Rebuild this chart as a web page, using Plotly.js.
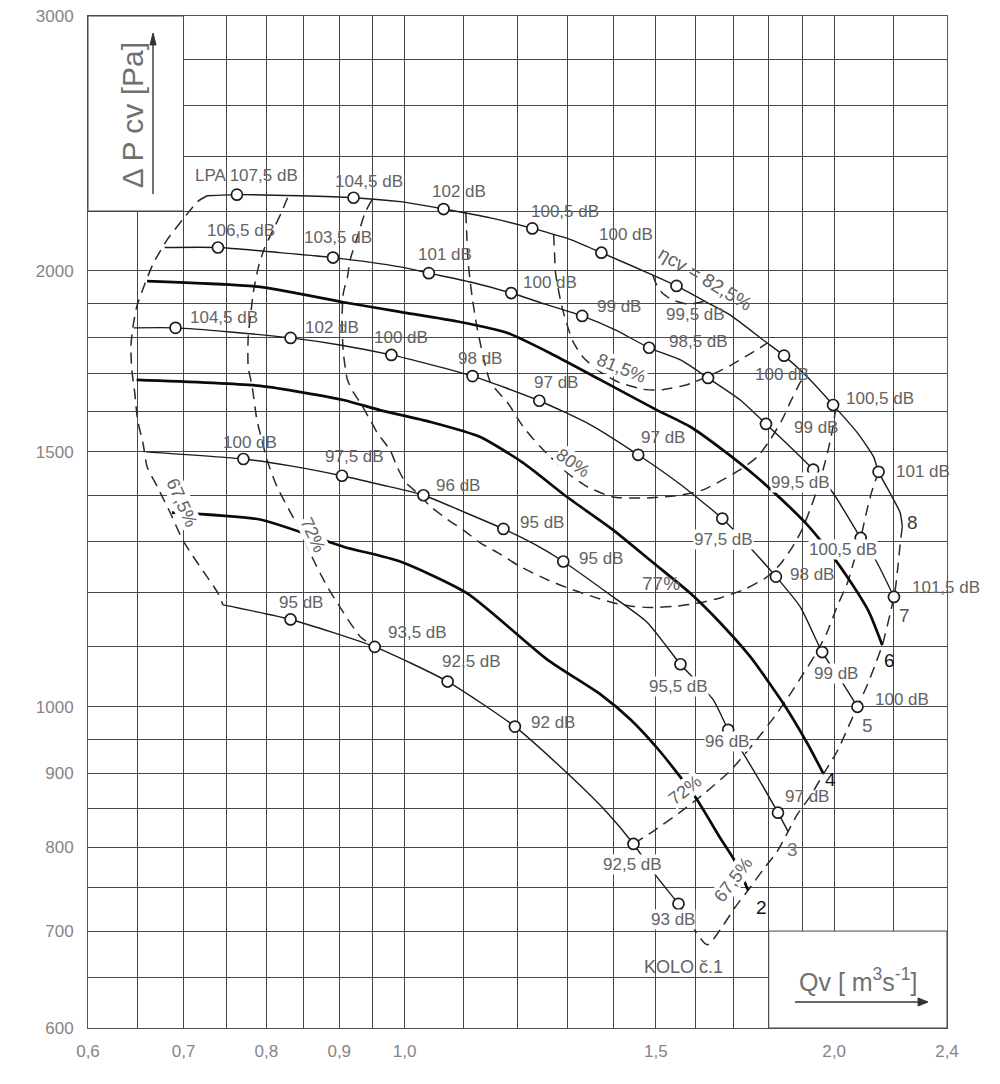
<!DOCTYPE html>
<html>
<head>
<meta charset="utf-8">
<script src="https://cdn.plot.ly/plotly-3.0.1.min.js"></script>
<style>
  html, body { margin: 0; padding: 0; background: #fff; }
  #chart { width: 1000px; height: 1084px; }
</style>
</head>
<body>
<div id="chart"></div>
<script>
// Fan characteristic on log-log paper: static pressure vs. volume flow
// for blade settings 1-8, with efficiency contours and noise levels.

// ---- axes ----
const xGrid = [0.6, 0.65, 0.7, 0.75, 0.8, 0.85, 0.9, 0.95, 1.0, 1.1, 1.2, 1.3, 1.4, 1.5, 1.6, 1.7, 1.8, 1.9, 2.0, 2.2, 2.4];
const xTickValues = [0.6, 0.7, 0.8, 0.9, 1.0, 1.5, 2.0, 2.4];
const xTickLabels = ['0,6', '0,7', '0,8', '0,9', '1,0', '1,5', '2,0', '2,4'];
const yGrid = [600, 650, 700, 750, 800, 850, 900, 950, 1000, 1100, 1200, 1300, 1400, 1500, 1600, 1700, 1800, 1900, 2000, 2200, 2400, 2600, 2800, 3000];
const yTickValues = [600, 700, 800, 900, 1000, 1500, 2000, 3000];
const yTickLabels = ['600', '700', '800', '900', '1000', '1500', '2000', '3000'];

// ---- characteristic curves (Qv [m3/s], dPcv [Pa]) ----
const q8 = [0.727, 0.763, 0.845, 0.921, 0.993, 1.065, 1.149, 1.229, 1.306, 1.374, 1.493, 1.551, 1.638, 1.691, 1.784, 1.845, 1.915, 1.997, 2.077, 2.132, 2.149, 2.189, 2.225, 2.233];
const p8 = [2254, 2258, 2254, 2247, 2233, 2207, 2176, 2140, 2103, 2059, 1987, 1953, 1897, 1865, 1792, 1748, 1690, 1616, 1546, 1488, 1453, 1405, 1362, 1332];

const q7 = [0.679, 0.740, 0.818, 0.891, 0.993, 1.040, 1.112, 1.188, 1.255, 1.332, 1.405, 1.484, 1.561, 1.632, 1.719, 1.792, 1.863, 1.934, 1.997, 2.088, 2.138, 2.203];
const p7 = [2076, 2076, 2059, 2043, 2013, 1993, 1965, 1931, 1897, 1862, 1821, 1770, 1736, 1687, 1629, 1568, 1512, 1458, 1405, 1308, 1264, 1191];

const q6 = [0.660, 0.792, 0.906, 0.993, 1.094, 1.181, 1.272, 1.372, 1.503, 1.586, 1.672, 1.767, 1.863, 1.915, 1.987, 2.054, 2.115, 2.162];
const p6 = [1968, 1950, 1903, 1874, 1844, 1812, 1750, 1682, 1603, 1561, 1504, 1440, 1373, 1336, 1278, 1220, 1164, 1103];

const q5 = [0.646, 0.691, 0.755, 0.832, 0.901, 0.979, 1.043, 1.116, 1.177, 1.243, 1.350, 1.458, 1.561, 1.670, 1.747, 1.821, 1.893, 1.962, 2.020, 2.077];
const p5 = [1827, 1827, 1815, 1798, 1778, 1750, 1723, 1692, 1661, 1627, 1566, 1493, 1424, 1349, 1288, 1230, 1173, 1091, 1045, 1000];

const q4 = [0.649, 0.792, 0.906, 0.961, 1.043, 1.130, 1.211, 1.300, 1.400, 1.493, 1.586, 1.656, 1.747, 1.842, 1.915, 1.965];
const p4 = [1682, 1666, 1629, 1603, 1573, 1536, 1474, 1396, 1325, 1258, 1198, 1149, 1083, 1006, 944, 900];

const q3 = [0.659, 0.771, 0.832, 0.904, 0.961, 1.031, 1.099, 1.173, 1.235, 1.292, 1.400, 1.479, 1.561, 1.646, 1.686, 1.727, 1.827, 1.857];
const p3 = [1500, 1483, 1467, 1444, 1424, 1400, 1364, 1327, 1294, 1260, 1191, 1144, 1070, 1011, 964, 929, 845, 820];

const q2 = [0.687, 0.792, 0.906, 0.993, 1.106, 1.259, 1.372, 1.440, 1.511, 1.598, 1.664, 1.705, 1.741];
const p2 = [1362, 1347, 1290, 1260, 1198, 1078, 1020, 980, 931, 867, 812, 782, 747];

const q1 = [0.746, 0.832, 0.953, 1.072, 1.195, 1.300, 1.387, 1.447, 1.498, 1.556];
const p1 = [1176, 1149, 1100, 1041, 969, 900, 845, 804, 766, 731];

// ---- measured noise points LPA [dB] on curves 8, 7, 5, 3, 1 ----
const q8Pts = [0.763, 0.921, 1.065, 1.229, 1.374, 1.551, 1.845, 1.997, 2.149];
const p8Pts = [2258, 2247, 2207, 2140, 2059, 1953, 1748, 1616, 1453];
const db8 = ['107,5', '104,5', '102', '100,5', '100', '99,5', '100', '100,5', '101'];

const q7Pts = [0.740, 0.891, 1.040, 1.188, 1.332, 1.484, 1.632, 1.792, 1.934, 2.088, 2.203];
const p7Pts = [2076, 2043, 1993, 1931, 1862, 1770, 1687, 1568, 1458, 1308, 1191];
const db7 = ['106,5', '103,5', '101', '100', '99', '98,5', '', '99', '99,5', '100,5', '101,5'];

const q5Pts = [0.691, 0.832, 0.979, 1.116, 1.243, 1.458, 1.670, 1.821, 1.962, 2.077];
const p5Pts = [1827, 1798, 1750, 1692, 1627, 1493, 1349, 1230, 1091, 1000];
const db5 = ['104,5', '102', '100', '98', '97', '97', '97,5', '98', '99', '100'];

const q3Pts = [0.771, 0.904, 1.031, 1.173, 1.292, 1.561, 1.686, 1.827];
const p3Pts = [1483, 1444, 1400, 1327, 1260, 1070, 964, 845];
const db3 = ['100', '97,5', '96', '95', '95', '95,5', '96', '97'];

const q1Pts = [0.832, 0.953, 1.072, 1.195, 1.447, 1.556];
const p1Pts = [1149, 1100, 1041, 969, 804, 731];
const db1 = ['95', '93,5', '92,5', '92', '92,5', '93'];

// ---- efficiency contours eta_cv ----
const qEta675L = [0.727, 0.716, 0.699, 0.682, 0.667, 0.658, 0.649, 0.645, 0.643, 0.644, 0.647, 0.650, 0.656, 0.660, 0.671, 0.685, 0.699, 0.711, 0.727, 0.740, 0.746];
const pEta675L = [2254, 2233, 2170, 2103, 2026, 1962, 1889, 1827, 1773, 1708, 1648, 1578, 1517, 1465, 1419, 1362, 1304, 1270, 1230, 1198, 1176];
const qEta675R = [2.233, 2.225, 2.218, 2.210, 2.203, 2.189, 2.172, 2.162, 2.138, 2.111, 2.077, 2.047, 2.013, 1.968, 1.924, 1.884, 1.857, 1.824, 1.784, 1.741, 1.705, 1.670, 1.630, 1.556];
const pEta675R = [1332, 1294, 1254, 1214, 1191, 1158, 1122, 1103, 1070, 1036, 1000, 969, 934, 900, 867, 842, 820, 794, 772, 747, 727, 705, 685, 731];
const qEta72L = [0.828, 0.820, 0.808, 0.798, 0.790, 0.784, 0.780, 0.777, 0.777, 0.782, 0.788, 0.792, 0.801, 0.814, 0.832, 0.845, 0.863, 0.883, 0.906, 0.931, 0.953];
const pEta72L = [2247, 2196, 2130, 2076, 2013, 1941, 1865, 1800, 1717, 1664, 1578, 1546, 1481, 1419, 1362, 1325, 1264, 1210, 1162, 1118, 1100];
const qEta72R = [1.447, 1.498, 1.561, 1.624, 1.691, 1.761, 1.819, 1.863, 1.902, 1.940, 1.977, 2.010, 2.044, 2.064, 2.088, 2.108, 2.125, 2.149];
const pEta72R = [804, 822, 846, 872, 903, 946, 986, 1020, 1053, 1086, 1125, 1173, 1218, 1258, 1308, 1364, 1407, 1453];
const qEta77 = [0.949, 0.938, 0.928, 0.916, 0.912, 0.906, 0.904, 0.906, 0.912, 0.921, 0.931, 0.946, 0.957, 0.977, 0.988, 1.001, 1.021, 1.043, 1.072, 1.099, 1.130, 1.162, 1.205, 1.259, 1.313, 1.357, 1.400, 1.447, 1.493, 1.543, 1.611, 1.664, 1.733, 1.792, 1.833, 1.869, 1.899, 1.924, 1.946, 1.965, 1.981, 1.993, 2.006];
const pEta77 = [2240, 2193, 2120, 2036, 1981, 1931, 1850, 1756, 1682, 1648, 1622, 1578, 1546, 1504, 1465, 1430, 1405, 1375, 1347, 1325, 1298, 1278, 1250, 1224, 1204, 1191, 1180, 1173, 1171, 1173, 1180, 1189, 1206, 1228, 1254, 1288, 1325, 1368, 1412, 1458, 1504, 1546, 1608];
const qEta80 = [1.104, 1.106, 1.108, 1.112, 1.116, 1.125, 1.140, 1.149, 1.181, 1.211, 1.245, 1.300, 1.343, 1.400, 1.479, 1.561, 1.619, 1.672, 1.719, 1.767, 1.804, 1.839, 1.863, 1.893, 1.908];
const pEta80 = [2196, 2103, 2029, 1965, 1910, 1821, 1717, 1674, 1622, 1561, 1512, 1451, 1419, 1396, 1394, 1400, 1412, 1435, 1458, 1488, 1529, 1578, 1622, 1674, 1692];
const qEta815 = [1.272, 1.274, 1.276, 1.286, 1.292, 1.302, 1.313, 1.335, 1.372, 1.416, 1.475, 1.518, 1.578, 1.646, 1.691, 1.738, 1.775, 1.795];
const pEta815 = [2120, 2053, 1993, 1910, 1874, 1827, 1786, 1742, 1703, 1674, 1656, 1656, 1669, 1698, 1720, 1748, 1770, 1783];
const qEta825 = [1.493, 1.500, 1.516, 1.541, 1.580, 1.624];
const pEta825 = [1987, 1962, 1931, 1910, 1897, 1906];

// ---- styling ----
const FONT = 'Liberation Sans, Arial, sans-serif';
const INK = '#1c1c1c';
const GRID = '#474747';
const TEXT = '#636363';

const thin = { color: INK, width: 1.4, shape: 'spline', smoothing: 0.6 };
const bold = { color: '#0a0a0a', width: 2.7, shape: 'spline', smoothing: 0.6 };
const dashed = { color: '#2a2a2a', width: 1.5, dash: '11px,7px', shape: 'spline', smoothing: 0.6 };

const lineTrace = (x, y, style) => ({ type: 'scatter', mode: 'lines', x, y, line: style, hoverinfo: 'skip' });
const pointTrace = (x, y) => ({
  type: 'scatter', mode: 'markers', x, y, hoverinfo: 'skip',
  marker: { symbol: 'circle', size: 11, color: '#fff', line: { color: INK, width: 1.7 } }
});

const traces = [
  lineTrace(qEta675L, pEta675L, dashed),
  lineTrace(qEta675R, pEta675R, dashed),
  lineTrace(qEta72L, pEta72L, dashed),
  lineTrace(qEta72R, pEta72R, dashed),
  lineTrace(qEta77, pEta77, dashed),
  lineTrace(qEta80, pEta80, dashed),
  lineTrace(qEta815, pEta815, dashed),
  lineTrace(qEta825, pEta825, dashed),
  lineTrace(q8, p8, thin),
  lineTrace(q7, p7, thin),
  lineTrace(q5, p5, thin),
  lineTrace(q3, p3, thin),
  lineTrace(q1, p1, thin),
  lineTrace(q6, p6, bold),
  lineTrace(q4, p4, bold),
  lineTrace(q2, p2, bold),
  pointTrace(q8Pts, p8Pts),
  pointTrace(q7Pts, p7Pts),
  pointTrace(q5Pts, p5Pts),
  pointTrace(q3Pts, p3Pts),
  pointTrace(q1Pts, p1Pts)
];

// ---- noise-level labels: pixel offset of each label from its point ----
const shift8 = [[10, -19], [15, -16], [15, -18], [33, -17], [25, -18], [19, 29], [-2, 19], [47, -7], [44, 0]];
const shift7 = [[23, -17], [5, -20], [16, -19], [39, -11], [37, -9], [49, -6], null, [50, 4], [-13, 13], [-18, 12], [52, -9]];
const shift5 = [[48, -10], [41, -10], [10, -17], [7, -18], [17, -18], [25, -17], [1, 21], [36, -2], [14, 21], [45, -7]];
const shift3 = [[7, -17], [13, -19], [35, -10], [39, -6], [38, -3], [-2, 22], [-1, 12], [29, -16]];
const shift1 = [[10, -17], [43, -14], [24, -20], [38, -4], [-1, 21], [-5, 16]];

function dbLabels(qs, ps, dbs, shifts, boxed, prefix) {
  const out = [];
  dbs.forEach((d, i) => {
    if (!d) return;
    out.push({
      xref: 'x', yref: 'y', x: Math.log10(qs[i]), y: Math.log10(ps[i]),
      xanchor: 'center', yanchor: 'middle',
      text: (i === 0 && prefix ? prefix : '') + d + ' dB',
      showarrow: false, xshift: shifts[i][0], yshift: -shifts[i][1],
      font: { family: FONT, size: 17, color: TEXT },
      bgcolor: boxed.includes(i) ? '#ffffff' : 'rgba(0,0,0,0)', borderpad: 0
    });
  });
  return out;
}

const paperText = (text, x, y, opts = {}) => Object.assign({
  xref: 'paper', yref: 'paper', x, y, text, showarrow: false,
  xanchor: 'center', yanchor: 'middle',
  font: { family: FONT, size: 18, color: TEXT }, borderpad: 0
}, opts);

const annotations = [
  ...dbLabels(q8Pts, p8Pts, db8, shift8, [], 'LPA '),
  ...dbLabels(q7Pts, p7Pts, db7, shift7, [8, 9]),
  ...dbLabels(q5Pts, p5Pts, db5, shift5, [6, 8]),
  ...dbLabels(q3Pts, p3Pts, db3, shift3, [5, 6]),
  ...dbLabels(q1Pts, p1Pts, db1, shift1, [4, 5]),

  // efficiency contour labels
  paperText('67,5%', 0.1094, 0.5188, { textangle: 66, bgcolor: '#fff' }),
  paperText('72%', 0.2619, 0.4872, { textangle: 65, bgcolor: '#fff' }),
  paperText('77%', 0.6671, 0.4397, { font: { family: FONT, size: 19, color: TEXT } }),
  paperText('80%', 0.5646, 0.5583, { textangle: 35, bgcolor: '#fff' }),
  paperText('81,5%', 0.6205, 0.6522, { textangle: 22, bgcolor: '#fff' }),
  paperText('ηcv = 82,5%', 0.7183, 0.7411, { textangle: 31, font: { family: FONT, size: 19, color: TEXT } }),
  paperText('72%', 0.6950, 0.2352, { textangle: -38, bgcolor: '#fff' }),
  paperText('67,5%', 0.7509, 0.1462, { textangle: -53, bgcolor: '#fff' }),

  // blade setting numbers
  paperText('8', 0.9604, 0.5000, { font: { family: FONT, size: 19, color: '#3a3a3a' } }),
  paperText('7', 0.9511, 0.4081, { font: { family: FONT, size: 19, color: '#555' } }),
  paperText('6', 0.9325, 0.3636, { font: { family: FONT, size: 19, color: '#111' } }),
  paperText('5', 0.9080, 0.2994, { font: { family: FONT, size: 19, color: '#666' } }),
  paperText('4', 0.8638, 0.2451, { font: { family: FONT, size: 19, color: '#111' } }),
  paperText('3', 0.8207, 0.1759, { font: { family: FONT, size: 19, color: '#777' } }),
  paperText('2', 0.7846, 0.1186, { font: { family: FONT, size: 19, color: '#111' } }),
  paperText('KOLO č.1', 0.6927, 0.0603),

  // axis titles
  paperText('Δ P cv [Pa]', 0.0512, 0.902, { textangle: -90, font: { family: FONT, size: 30, color: '#707070' } }),
  paperText('Qv [ m<sup>3</sup>s<sup>-1</sup>]', 0.8964, 0.0474, { font: { family: FONT, size: 25, color: '#707070' } })
];

// ---- paper helpers ----
const xMin = 0.6, xMax = 2.4, yMin = 600, yMax = 3000;
const xPaper = v => Math.log10(v / xMin) / Math.log10(xMax / xMin);
const yPaper = v => Math.log10(v / yMin) / Math.log10(yMax / yMin);

// blank panels behind the axis titles, plus the title arrows
const ARROW = '#333';
const shapes = [
  { type: 'rect', xref: 'paper', yref: 'paper', layer: 'above',
    x0: 0, x1: xPaper(0.7), y0: yPaper(2200), y1: 1,
    fillcolor: '#fff', line: { color: GRID, width: 1 } },
  { type: 'rect', xref: 'paper', yref: 'paper', layer: 'above',
    x0: xPaper(1.8), x1: 1, y0: 0, y1: yPaper(700),
    fillcolor: '#fff', line: { color: GRID, width: 1 } },
  // vertical arrow beside the pressure title
  { type: 'line', xref: 'paper', yref: 'paper', layer: 'above',
    x0: 0.0757, x1: 0.0757, y0: 0.8241, y1: 0.975, line: { color: ARROW, width: 1.4 } },
  { type: 'path', xref: 'paper', yref: 'paper', layer: 'above',
    path: 'M 0.0757 0.9832 L 0.0722 0.9714 L 0.0792 0.9714 Z',
    fillcolor: ARROW, line: { color: ARROW, width: 1 } },
  // horizontal arrow under the flow title
  { type: 'line', xref: 'paper', yref: 'paper', layer: 'above',
    x0: 0.8231, x1: 0.9700, y0: 0.0257, y1: 0.0257, line: { color: ARROW, width: 1.4 } },
  { type: 'path', xref: 'paper', yref: 'paper', layer: 'above',
    path: 'M 0.9779 0.0257 L 0.9663 0.0297 L 0.9663 0.0217 Z',
    fillcolor: ARROW, line: { color: ARROW, width: 1 } }
];

const labelFor = (grid, vals, labels) => grid.map(v => {
  const k = vals.findIndex(t => Math.abs(t - v) < 1e-9);
  return k >= 0 ? labels[k] : '';
});

const layout = {
  width: 1000, height: 1084,
  margin: { l: 88, r: 53, t: 16, b: 56 },
  paper_bgcolor: '#fff', plot_bgcolor: '#fff',
  showlegend: false, hovermode: false,
  font: { family: FONT, color: TEXT },
  xaxis: {
    type: 'log', range: [Math.log10(xMin), Math.log10(xMax)],
    tickmode: 'array', tickvals: xGrid, ticktext: labelFor(xGrid, xTickValues, xTickLabels),
    ticks: '', ticklabelstandoff: 8,
    tickfont: { family: FONT, size: 17, color: '#858585' },
    showgrid: true, gridcolor: GRID, gridwidth: 1,
    showline: true, mirror: true, linecolor: '#555', linewidth: 1,
    zeroline: false, fixedrange: true
  },
  yaxis: {
    type: 'log', range: [Math.log10(yMin), Math.log10(yMax)],
    tickmode: 'array', tickvals: yGrid, ticktext: labelFor(yGrid, yTickValues, yTickLabels),
    ticks: '', ticklabelstandoff: 10,
    tickfont: { family: FONT, size: 17, color: '#858585' },
    showgrid: true, gridcolor: GRID, gridwidth: 1,
    showline: true, mirror: true, linecolor: '#555', linewidth: 1,
    zeroline: false, fixedrange: true
  },
  shapes, annotations
};

Plotly.newPlot('chart', traces, layout, { staticPlot: true, displayModeBar: false });
</script>
</body>
</html>
